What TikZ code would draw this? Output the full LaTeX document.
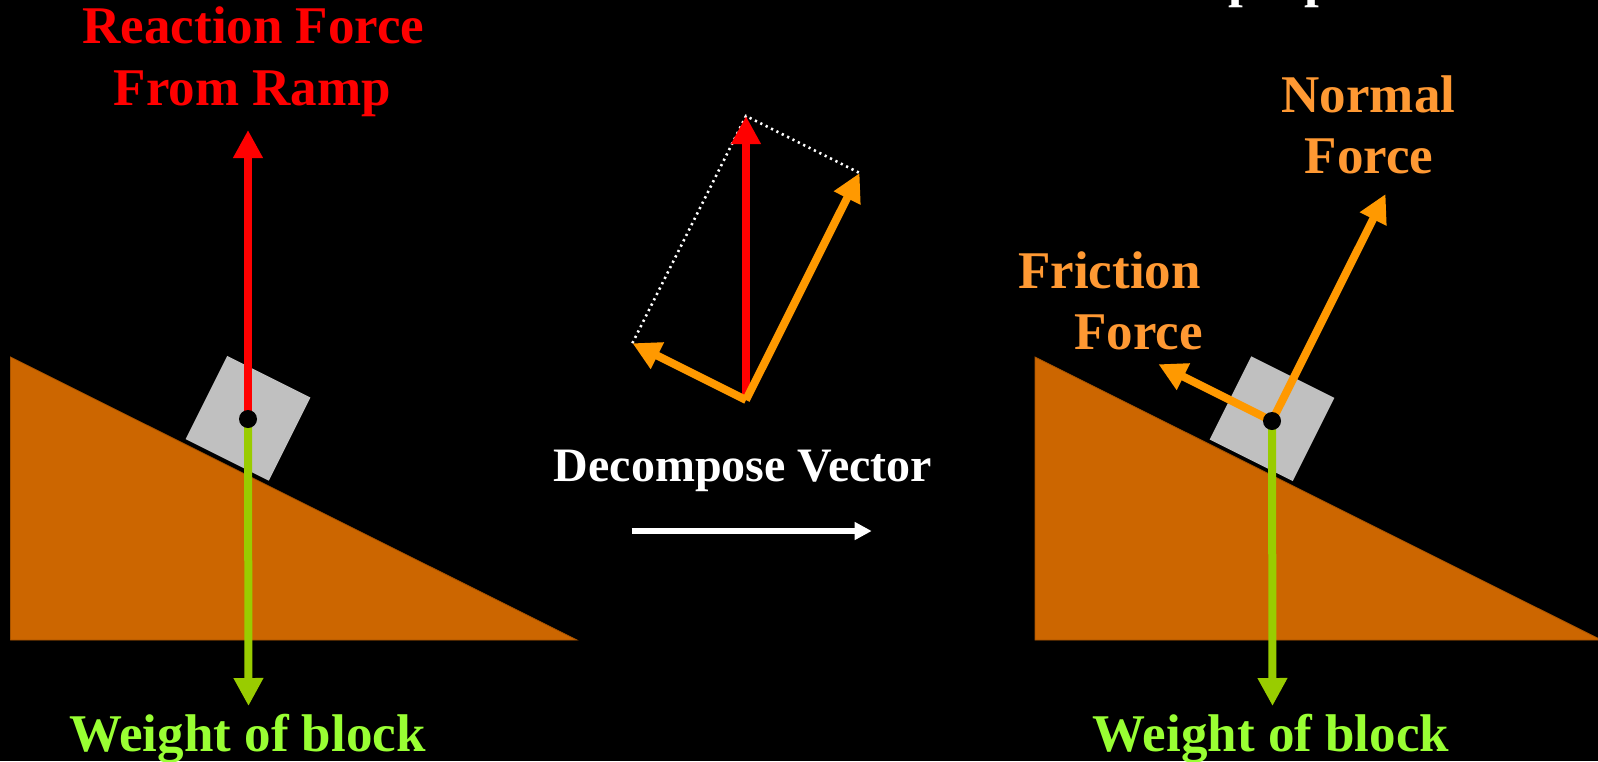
\documentclass[tikz,border=0pt]{standalone}
\usepackage{fontspec}
\setmainfont{Liberation Serif}
\usetikzlibrary{arrows.meta}
\definecolor{rampcol}{HTML}{CC6600}
\definecolor{rampedge}{HTML}{A85400}
\definecolor{blockgray}{HTML}{C0C0C0}
\definecolor{forcered}{HTML}{FF0000}
\definecolor{weightgreen}{HTML}{99CC00}
\definecolor{weighttext}{HTML}{99FF33}
\definecolor{forceorange}{HTML}{FF9900}
\definecolor{orangetext}{HTML}{FF9933}
\begin{document}
\begin{tikzpicture}[x=1pt,y=-1pt,
  lbl/.style={font=\fontsize{53}{62}\selectfont\bfseries, inner sep=0pt, anchor=base},
  vec/.style={line width=8pt, -{Triangle[width=28pt,length=28pt]}},
  ramp/.style={fill=rampcol, draw=rampedge, line width=0.8pt},
  blockbox/.style={rotate=-26.57, minimum size=93pt, fill=blockgray, inner sep=0pt, outer sep=0pt, draw=none},
  pivot/.style={fill=black},
  guide/.style={white, line width=2.6pt, dash pattern=on 2.2pt off 3.8pt},
  bigarrow/.style={white, line width=5.3pt, -{Triangle[width=17pt,length=17pt]}}]
\useasboundingbox (0,0) rectangle (1598,761);
\fill[black] (0,0) rectangle (1598,761);
\clip (0,0) rectangle (1598,761);

% ---------- left panel ----------
\fill[ramp] (10.5,357) -- (10.5,640) -- (577,640) -- cycle;
\node[blockbox] (blockL) at (248,418.3) {};
\coordinate (dotL) at (248,419);
\coordinate (redtipL) at (248,130);
\coordinate (greentipL) at (248.5,706);
\draw[vec, forcered] (dotL) -- (redtipL);
\draw[vec, weightgreen] (dotL) -- (greentipL);
\fill[pivot] (dotL) circle (9pt);
\node[lbl, forcered] (reactA) at (253.5,43) {Reaction Force};
\node[lbl, forcered] (reactB) at (252.5,105) {From Ramp};
\node[lbl, weighttext] (weightL) at (247.5,751.5) {Weight of block};

% ---------- middle ----------
\coordinate (O) at (746,400);
\coordinate (R) at (746,116);
\coordinate (N) at (859.6,173);
\coordinate (F) at (632.4,343.2);
\draw[guide] (F) -- (R) -- (N);
\draw[vec, forcered] (O) -- (R);
\draw[vec, forceorange] (O) -- (N);
\draw[vec, forceorange] (O) -- (F);
\node[lbl, white, font=\fontsize{48}{58}\selectfont\bfseries] (decomp) at (743,481) {Decompose Vector};
\coordinate (arrowS) at (631.7,531);
\coordinate (arrowE) at (871.7,531);
\draw[bigarrow] (arrowS) -- (arrowE);

% ---------- right panel ----------
\fill[ramp] (1035,357) -- (1035,640) -- (1598,640) -- (1598,638.3) -- cycle;
\node[blockbox] (blockR) at (1272,418.7) {};
\coordinate (dotR) at (1272,421);
\coordinate (normtip) at (1385.6,194);
\coordinate (fricttip) at (1158.4,364.2);
\coordinate (greentipR) at (1272.5,706);
\draw[vec, weightgreen] (dotR) -- (greentipR);
\draw[vec, forceorange] (dotR) -- (normtip);
\draw[vec, forceorange] (dotR) -- (fricttip);
\fill[pivot] (dotR) circle (9pt);
\node[lbl, orangetext] (normA) at (1368.5,112) {Normal};
\node[lbl, orangetext] (normB) at (1369,173) {Force};
\node[lbl, orangetext, anchor=base east] (fricA) at (1201,288) {Friction};
\node[lbl, orangetext, anchor=base east] (fricB) at (1203,349.5) {Force};
\node[lbl, weighttext] (weightR) at (1271,751.5) {Weight of block};
\node[lbl, white, anchor=base west] (perp) at (1228,-4) {perpendicular};
\end{tikzpicture}
\end{document}
